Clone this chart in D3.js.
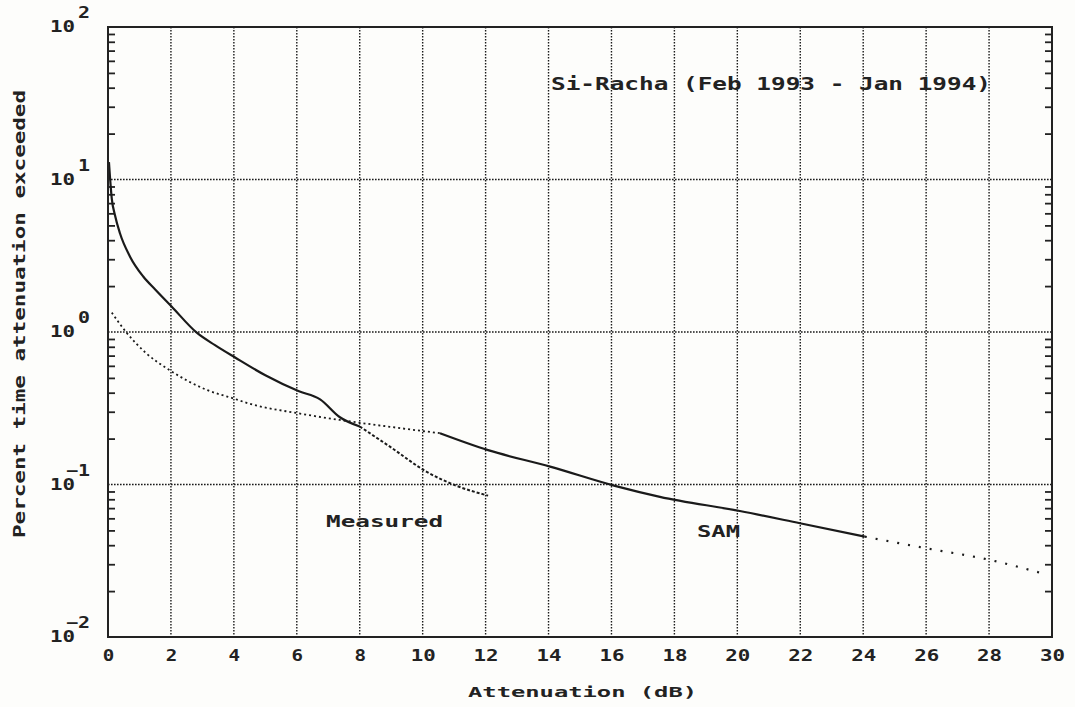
<!DOCTYPE html>
<html>
<head>
<meta charset="utf-8">
<script src="https://cdn.jsdelivr.net/npm/d3@7"></script>
<style>
  body { margin: 0; background: #fdfdfb; }
  svg { display: block; }
  text { font-family: "DejaVu Sans Mono", monospace; fill: #222; }
</style>
</head>
<body>
<svg id="chart" width="1075" height="707"></svg>
<script>
// ---- data ----
const xTicks = [0, 2, 4, 6, 8, 10, 12, 14, 16, 18, 20, 22, 24, 26, 28, 30];
const yDecades = [-2, -1, 0, 1, 2];

// Measured curve (solid part, then dashed part)
const measuredSolidX = [0.03, 0.12, 0.22, 0.38, 0.70, 1.12, 1.5, 2.02, 2.82, 3.4, 4.04, 5.0, 6.05, 6.74, 7.37, 8.0];
const measuredSolidY = [13, 7.5, 5.85, 4.44, 3.12, 2.31, 1.9, 1.47, 0.99, 0.82, 0.68, 0.52, 0.41, 0.362, 0.276, 0.24];
const measuredDashX = [8.0, 8.96, 10.13, 11.08, 12.08];
const measuredDashY = [0.24, 0.177, 0.121, 0.098, 0.0845];

// SAM curve (dotted, solid, extrapolated)
const samDotX = [0.12, 0.59, 1.2, 1.97, 3.14, 3.98, 4.51, 6.05, 7.37, 8.96, 10.55];
const samDotY = [1.34, 0.99, 0.73, 0.56, 0.417, 0.367, 0.338, 0.293, 0.265, 0.239, 0.217];
const samSolidX = [10.55, 12.08, 14.05, 16.11, 17.54, 20.08, 21.99, 24.05];
const samSolidY = [0.217, 0.168, 0.131, 0.098, 0.083, 0.067, 0.0557, 0.0455];
const samExtX = [24.05, 26.0, 28.03, 29.62];
const samExtY = [0.0455, 0.0382, 0.032, 0.0264];

const titleText = "Si-Racha (Feb 1993 - Jan 1994)";
const xTitle = "Attenuation (dB)";
const yTitle = "Percent time attenuation exceeded";
const measuredLabel = "Measured";
const samLabel = "SAM";

// ---- layout ----
const L = 108, R = 1052, T = 27, B = 637;
const svg = d3.select("#chart");
const x = d3.scaleLinear().domain([0, 30]).range([L, R]);
const y = d3.scaleLog().domain([0.01, 100]).range([B, T]);

// grid
const grid = svg.append("g").attr("stroke", "#1a1a1a").attr("stroke-width", 1.4)
  .attr("stroke-dasharray", "1.6 1.4").attr("fill", "none");
grid.selectAll(".vg").data(xTicks.filter(d => d > 0 && d < 30)).join("line")
  .attr("x1", d => x(d)).attr("x2", d => x(d)).attr("y1", T).attr("y2", B);
grid.selectAll(".hg").data(yDecades.filter(d => d > -2 && d < 2)).join("line")
  .attr("y1", d => y(Math.pow(10, d))).attr("y2", d => y(Math.pow(10, d))).attr("x1", L).attr("x2", R);

// minor ticks
const minors = [];
for (let e = -2; e < 2; e++) for (let m = 2; m <= 9; m++) minors.push(m * Math.pow(10, e));
const leftAx = d3.axisRight(y).tickValues(minors).tickSize(7).tickFormat("");
const rightAx = d3.axisLeft(y).tickValues(minors).tickSize(7).tickFormat("");
[svg.append("g").attr("transform", `translate(${L},0)`).call(leftAx),
 svg.append("g").attr("transform", `translate(${R},0)`).call(rightAx)].forEach(g => {
  g.select(".domain").remove();
  g.selectAll("line").attr("stroke", "#222").attr("stroke-width", 1.8);
});

// x tick labels via axis
const xAx = d3.axisBottom(x).tickValues(xTicks).tickSize(0).tickPadding(13).tickFormat(d3.format("d"));
const gx = svg.append("g").attr("transform", `translate(0,${B})`).call(xAx);
gx.select(".domain").remove();
gx.selectAll("text").attr("font-size", 15).attr("font-weight", "bold")
  .attr("font-family", "DejaVu Sans Mono, monospace").attr("fill", "#222")
  .attr("textLength", function () { return this.textContent.length * 13.5 - 2; })
  .attr("lengthAdjust", "spacingAndGlyphs");

// y tick labels 10^n
const gy = svg.append("g");
yDecades.forEach(e => {
  const yy = y(Math.pow(10, e));
  gy.append("text").attr("x", 50).attr("y", yy + 5).attr("font-size", 16).attr("font-weight", "bold")
    .attr("textLength", 25).attr("lengthAdjust", "spacingAndGlyphs").text("10");
  const sup = String(e).replace("-", "\u2212");
  gy.append("text").attr("x", 90).attr("y", yy - 9).attr("font-size", 15).attr("font-weight", "bold")
    .attr("text-anchor", "end").attr("textLength", sup.length * 12)
    .attr("lengthAdjust", "spacingAndGlyphs").text(sup);
});

// curves
const line = d3.line().curve(d3.curveMonotoneX).x(d => x(d[0])).y(d => y(d[1]));
function zip(a, b) { return a.map((v, i) => [v, b[i]]); }
function draw(xs, ys, w, dash) {
  svg.append("path").datum(zip(xs, ys)).attr("d", line).attr("fill", "none")
    .attr("stroke", "#1a1a1a").attr("stroke-width", w)
    .attr("stroke-dasharray", dash || null).attr("stroke-linejoin", "round");
}
draw(measuredSolidX, measuredSolidY, 2.2);
draw(measuredDashX, measuredDashY, 2, "3 2");
draw(samDotX, samDotY, 1.8, "2 3");
draw(samSolidX, samSolidY, 2.2);
draw(samExtX, samExtY, 2.2, "2 9");

// frame
svg.append("rect").attr("x", L).attr("y", T).attr("width", R - L).attr("height", B - T)
  .attr("fill", "none").attr("stroke", "#222").attr("stroke-width", 2);

// texts
function label(txt, xx, yy, size, len) {
  return svg.append("text").attr("x", xx).attr("y", yy).attr("font-size", size).attr("font-weight", "bold")
    .attr("textLength", len).attr("lengthAdjust", "spacingAndGlyphs").text(txt);
}
label(titleText, 551, 90, 17, 440);
label(measuredLabel, 326, 527, 16, 117);
label(samLabel, 697, 537, 16, 43);
label(xTitle, 468, 697, 14, 229);
svg.append("text").attr("transform", "translate(25,314) rotate(-90)").attr("text-anchor", "middle")
  .attr("font-size", 15).attr("font-weight", "bold")
  .attr("textLength", 448).attr("lengthAdjust", "spacingAndGlyphs").text(yTitle);
</script>
</body>
</html>
